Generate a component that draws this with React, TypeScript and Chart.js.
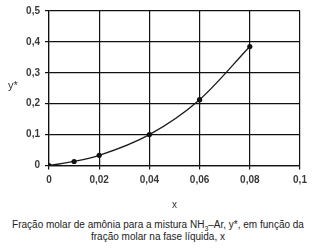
import React, { useEffect, useRef } from "react";
import { Chart, registerables } from "chart.js";

Chart.register(...registerables);

const xValues = [0, 0.01, 0.02, 0.04, 0.06, 0.08];
const yValues = [0, 0.013, 0.033, 0.1, 0.213, 0.385];
const xTickLabels = ["0", "0,02", "0,04", "0,06", "0,08", "0,1"];
const yTickLabels = ["0", "0,1", "0,2", "0,3", "0,4", "0,5"];
const xTitle = "x";
const yTitle = "y*";

export default function App() {
  const ref = useRef<HTMLCanvasElement | null>(null);
  useEffect(() => {
    if (!ref.current) return;
    const tickFont = { family: "'Liberation Sans', Arial, sans-serif", size: 10, weight: "bold" as const };
    const chart = new Chart(ref.current, {
      type: "line",
      data: {
        datasets: [
          {
            data: xValues.map((x, i) => ({ x, y: yValues[i] })),
            borderColor: "#1a1a1a",
            borderWidth: 1.3,
            backgroundColor: "#111",
            pointRadius: 2.6,
            pointBorderWidth: 0,
            cubicInterpolationMode: "monotone",
            fill: false,
          },
        ],
      },
      options: {
        animation: false,
        responsive: false,
        maintainAspectRatio: false,
        layout: { padding: { left: 0, right: 16, top: 9, bottom: 0 } },
        plugins: { legend: { display: false }, tooltip: { enabled: false } },
        scales: {
          x: {
            type: "linear",
            min: 0,
            max: 0.1,
            ticks: {
              stepSize: 0.02,
              color: "#3a3a3a",
              font: tickFont,
              padding: 5,
              maxRotation: 0,
              callback: (v: any) => xTickLabels[Math.round(Number(v) / 0.02)] ?? "",
            },
            grid: { color: "#111", lineWidth: 1.2, tickLength: 4, drawTicks: true },
            border: { color: "#111", width: 1.2 },
            title: {
              display: true,
              text: xTitle,
              color: "#333",
              font: { family: "'Liberation Sans', Arial, sans-serif", size: 10 },
              padding: { top: 4, bottom: 4 },
            },
            afterFit: (s: any) => {
              s.height = 49.5;
            },
          },
          y: {
            type: "linear",
            min: 0,
            max: 0.5,
            ticks: {
              stepSize: 0.1,
              color: "#3a3a3a",
              font: tickFont,
              padding: 5,
              callback: (v: any) => yTickLabels[Math.round(Number(v) / 0.1)] ?? "",
            },
            grid: { color: "#111", lineWidth: 1.2, tickLength: 4 },
            border: { color: "#111", width: 1.2 },
            afterFit: (s: any) => {
              s.width = 49;
            },
          },
        },
      },
    });
    return () => chart.destroy();
  }, []);
  return (
    <div style={{ position: "fixed", left: 0, top: 0, width: 316, height: 250, background: "#fff", fontFamily: "'Liberation Sans', Arial, sans-serif" }}>
      <canvas ref={ref} width={316} height={215} style={{ display: "block", width: 316, height: 215 }} />
      <div style={{ position: "absolute", left: 8, top: 79, fontSize: 11, color: "#333" }}>{yTitle}</div>
      <div style={{ position: "absolute", left: 0, top: 219, width: 316, textAlign: "center", fontSize: 10, lineHeight: "12px", color: "#222" }}>
        Fração molar de amônia para a mistura NH<sub style={{ fontSize: 7, lineHeight: 0 }}>3</sub>–Ar, y*, em função da
        <br />
        fração molar na fase líquida, x
      </div>
    </div>
  );
}
